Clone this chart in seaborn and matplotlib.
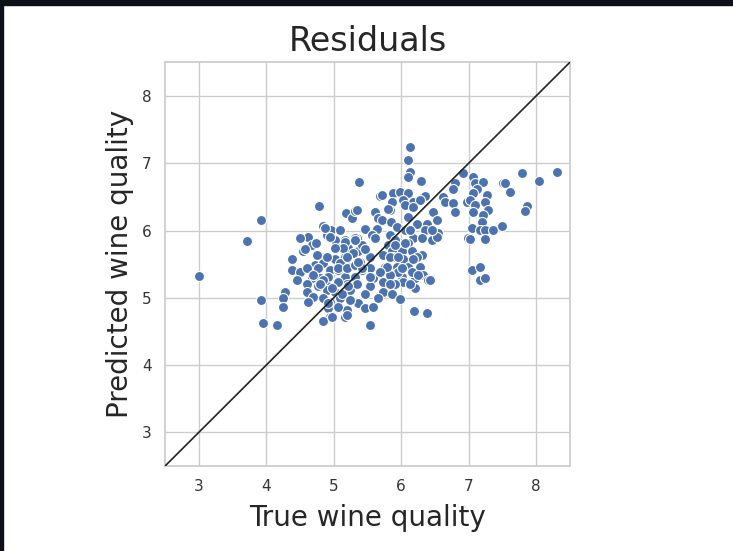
import numpy as np
import pandas as pd
import matplotlib
matplotlib.use("Agg")
import matplotlib.pyplot as plt
from matplotlib.patches import Rectangle
import seaborn as sns

true_quality = [
    3.00, 3.71, 3.92, 3.93, 3.96, 4.16, 4.28, 4.25, 4.25, 4.39, 4.39,
    4.78, 4.84, 4.90, 4.94, 5.18, 5.27, 5.31, 5.37,
    6.13, 6.10, 6.13, 6.10, 6.29, 5.69, 5.72, 5.88, 5.98, 6.10, 6.32, 6.35,
    5.86, 6.03, 6.18, 6.28, 5.83, 5.80, 5.61, 6.06, 6.18, 5.66, 5.72, 5.85,
    6.10, 6.23, 6.46, 5.34, 5.46, 5.64, 5.94, 6.38,
    5.34, 5.57, 5.83, 6.35, 6.18, 6.31, 6.46, 5.80, 5.95, 6.10, 5.86, 6.01,
    6.16, 6.31, 5.36, 5.54, 5.73, 5.88, 6.03, 6.23, 5.54, 5.76, 5.94, 6.10,
    6.28, 5.42, 5.58, 6.01, 6.03, 6.20, 6.32, 6.40, 5.73, 5.91, 6.20, 5.54,
    5.46, 5.73, 5.86, 5.98, 5.66, 5.36, 5.46, 5.58, 6.19, 6.38, 5.54,
    6.92, 7.07, 7.09, 7.21, 7.51, 6.80, 6.77, 7.12, 7.07, 7.27, 6.62, 6.65,
    6.98, 7.02, 7.24, 6.77, 7.09, 6.80, 7.07, 7.29, 7.21, 6.47, 6.53, 7.20,
    7.05, 7.17, 7.24, 7.36, 7.50, 6.55, 6.99, 7.24, 7.02, 6.53, 7.05, 7.17,
    7.17, 7.24, 6.43,
    7.79, 7.54, 7.61, 8.04, 8.31, 7.87, 7.84,
    4.62, 4.68, 4.54, 4.77, 4.90, 4.96, 5.02, 5.17, 5.12, 5.21, 5.31, 4.87,
    5.02, 5.17, 5.28, 4.72, 4.84, 4.50, 4.60, 4.75, 4.94, 5.06, 5.21, 4.45,
    4.68, 4.80, 4.91, 5.17, 5.31, 4.60, 4.77, 4.90, 5.05, 5.20, 4.60, 4.90,
    5.02, 5.24, 4.69, 4.84, 4.94, 5.09, 4.91, 5.06, 5.24, 5.20, 4.94, 5.17,
    4.84,
    4.50, 5.09, 4.74, 5.39, 5.42, 5.34, 5.09, 5.91, 6.06, 5.95, 6.13, 5.83,
    # núcleo denso
    4.87, 4.94, 5.17, 5.31, 5.14, 5.02, 5.20, 4.90, 4.75, 4.77, 5.06, 5.20,
    5.31, 4.69, 4.84, 5.06, 5.21, 4.97, 4.80, 5.12, 5.24, 4.91, 5.06, 5.20,
    4.97, 4.62, 4.57,
    5.91, 6.06, 5.83, 5.95, 6.18, 5.79, 6.01, 6.16, 5.69, 5.54, 5.42, 5.83,
    6.25, 5.61, 5.46, 5.36, 6.13, 6.46,
]
predicted_quality = [
    5.33, 5.85, 6.15, 4.97, 4.63, 4.59, 5.08, 5.00, 4.87, 5.58, 5.42,
    6.37, 6.07, 6.03, 6.00, 6.26, 6.19, 6.29, 6.72,
    7.24, 7.05, 6.87, 6.80, 6.74, 6.52, 6.53, 6.56, 6.58, 6.56, 6.50, 6.52,
    6.43, 6.46, 6.43, 6.46, 6.31, 6.32, 6.28, 6.38, 6.35, 6.19, 6.16, 6.12,
    6.20, 6.09, 6.28, 6.31, 6.03, 6.03, 6.06, 6.09,
    5.89, 5.94, 5.94, 6.01, 5.89, 5.89, 5.86, 5.79, 5.83, 5.82, 5.69, 5.69,
    5.69, 5.64, 5.69, 5.61, 5.64, 5.60, 5.57, 5.60, 5.45, 5.46, 5.46, 5.46,
    5.46, 5.42, 5.30, 5.31, 5.24, 5.30, 5.34, 5.27, 5.24, 5.20, 5.15, 5.17,
    5.05, 5.08, 5.05, 4.99, 5.00, 4.93, 4.85, 4.87, 4.81, 4.78, 4.59,
    6.86, 6.80, 6.71, 6.72, 6.71, 6.71, 6.62, 6.61, 6.56, 6.53, 6.50, 6.43,
    6.43, 6.46, 6.43, 6.41, 6.38, 6.28, 6.28, 6.31, 6.23, 6.28, 6.16, 6.13,
    6.04, 6.01, 6.01, 6.01, 6.07, 5.97, 5.89, 5.88, 5.88, 5.91, 5.42, 5.46,
    5.26, 5.30, 5.27,
    6.86, 6.71, 6.58, 6.74, 6.87, 6.37, 6.29,
    5.91, 5.79, 5.69, 5.64, 5.94, 6.01, 5.86, 5.86, 5.76, 5.74, 5.89, 5.60,
    5.57, 5.60, 5.67, 5.49, 5.52, 5.39, 5.45, 5.39, 5.42, 5.42, 5.46, 5.27,
    5.30, 5.30, 5.31, 5.31, 5.31, 5.20, 5.17, 5.17, 5.23, 5.20, 5.08, 5.12,
    5.09, 5.12, 5.02, 5.00, 4.94, 5.00, 4.85, 4.85, 4.97, 4.82, 4.72, 4.72,
    4.65,
    5.89, 6.01, 5.82, 5.54, 5.79, 5.20, 5.52, 5.86, 6.01, 5.39, 5.20, 5.34,
    # núcleo denso
    6.04, 5.91, 5.83, 5.86, 5.74, 5.74, 5.61, 5.61, 5.64, 5.45, 5.45, 5.45,
    5.49, 5.34, 5.27, 5.23, 5.17, 5.15, 5.20, 5.05, 4.97, 4.93, 4.87, 4.75,
    4.71, 4.94, 5.72,
    5.79, 5.82, 5.61, 5.60, 5.57, 5.46, 5.45, 5.39, 5.39, 5.31, 5.45, 5.20,
    5.34, 5.89, 5.72, 5.54, 6.01, 6.01,
]

axis_ticks = [3, 4, 5, 6, 7, 8]
axis_limits = (2.5, 8.5)

df = pd.DataFrame({"true": true_quality, "pred": predicted_quality})

sns.set_theme(style="whitegrid")
fig = plt.figure(figsize=(7.33, 5.51), dpi=100)
ax = fig.add_axes([0.225, 0.154, 0.5525, 0.733])

sns.scatterplot(data=df, x="true", y="pred", ax=ax, s=52, color="#4c72b0",
                edgecolor="white", linewidth=0.8, zorder=3)
ax.plot(axis_limits, axis_limits, color="#222222", linewidth=1.2, zorder=4)

ax.set_xlim(*axis_limits)
ax.set_ylim(*axis_limits)
ax.set_xticks(axis_ticks)
ax.set_yticks(axis_ticks)
ax.tick_params(labelsize=11, colors="#333333")
ax.set_title("Residuals", fontsize=24, color="#262626", pad=8)
ax.set_xlabel("True wine quality", fontsize=20, color="#262626", labelpad=7)
ax.set_ylabel("Predicted wine quality", fontsize=20, color="#262626", labelpad=6)

# bordes oscuros de la captura original
fig.add_artist(Rectangle((0, 1 - 5 / 551), 1, 5 / 551, transform=fig.transFigure,
                         color="#0d1117", zorder=10))
fig.add_artist(Rectangle((0, 0), 3 / 733, 1, transform=fig.transFigure,
                         color="#0d1117", zorder=10))

fig.savefig("out.png", dpi=100)
